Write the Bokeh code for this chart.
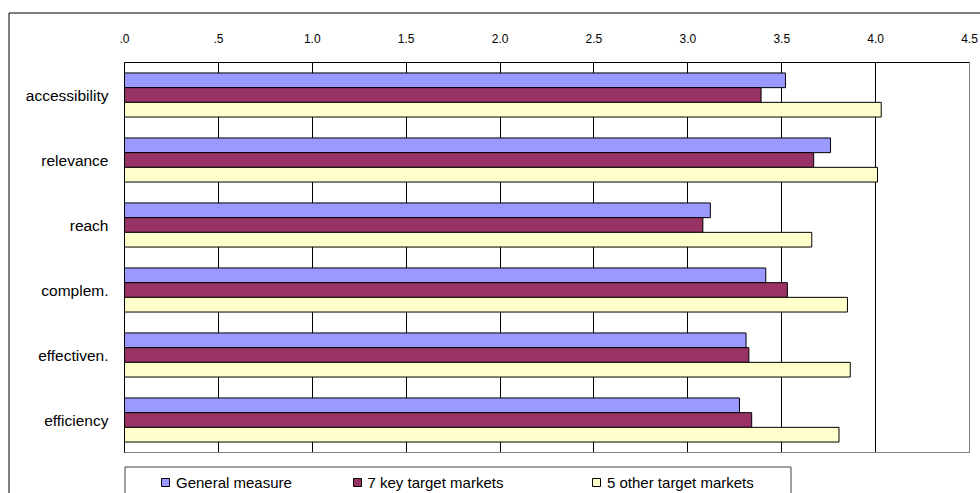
import numpy as np
from bokeh.plotting import figure
from bokeh.models import (Range1d, FixedTicker, ColumnDataSource, Legend, LegendItem,
                          BoxAnnotation, LinearAxis)
from bokeh.embed import file_html
from bokeh.resources import INLINE

categories = ["accessibility", "relevance", "reach", "complem.", "effectiven.", "efficiency"]
general_measure = [3.52, 3.76, 3.12, 3.415, 3.31, 3.275]
key_markets = [3.39, 3.67, 3.08, 3.53, 3.325, 3.34]
other_markets = [4.03, 4.01, 3.66, 3.85, 3.865, 3.805]
series_names = ["General measure", "7 key target markets", "5 other target markets"]
series_colors = ["#9999FF", "#993366", "#FFFFCC"]
x_ticks = [0.0, 0.5, 1.0, 1.5, 2.0, 2.5, 3.0, 3.5, 4.0, 4.5]
x_tick_labels = [".0", ".5", "1.0", "1.5", "2.0", "2.5", "3.0", "3.5", "4.0", "4.5"]

FONT = "Liberation Sans"
W, H = 980, 493
# layout of the inner plot area (pixels on the canvas)
PA_L, PA_R, PA_T, PA_B = 124, 969, 62, 452
XMAX = 4.5
NCAT = len(categories)
xs = (PA_R - PA_L) / XMAX          # px per x unit
ys = (PA_B - PA_T) / NCAT          # px per category band


def px_x(px):
    return (px - PA_L) / xs


def px_y(py):
    return (PA_B - py) / ys


centers = NCAT - 0.5 - np.arange(NCAT)
bh = 0.226
source = ColumnDataSource(dict(cat=categories, yc=centers, yg=centers + bh, yk=centers, yo=centers - bh,
                               g=general_measure, k=key_markets, o=other_markets))

p = figure(width=W, height=H, output_backend="svg", toolbar_location=None,
           x_range=Range1d(px_x(0), px_x(W)), y_range=Range1d(px_y(H), px_y(0)),
           x_axis_location="above", min_border=0, min_border_left=0, min_border_right=0,
           min_border_top=0, min_border_bottom=0)
p.outline_line_color = None
p.xgrid.visible = False
p.ygrid.visible = False

# top value axis; its inward ticks act as vertical gridlines
ax = p.xaxis[0]
ax.fixed_location = NCAT
ax.bounds = (0, XMAX)
ax.ticker = FixedTicker(ticks=x_ticks)
ax.major_label_overrides = {t: l for t, l in zip(x_ticks, x_tick_labels)}
ax.major_tick_out = 0
ax.major_tick_in = PA_B - PA_T
ax.major_tick_line_color = "#000000"
ax.minor_tick_out = 0
ax.minor_tick_in = 0
ax.major_label_standoff = 20
ax.major_label_text_font = FONT
ax.major_label_text_font_size = "12px"
ax.major_label_text_color = "#000000"
ax.axis_line_color = "#000000"
ax.level = "underlay"

# left category axis
ay = p.yaxis[0]
ay.fixed_location = 0
ay.bounds = (0, NCAT)
ay.ticker = FixedTicker(ticks=list(centers))
ay.major_label_overrides = {float(c): n for c, n in zip(centers, categories)}
ay.major_tick_out = 0
ay.major_tick_in = 0
ay.minor_tick_out = 0
ay.minor_tick_in = 0
ay.major_label_standoff = 16
ay.major_label_text_font = FONT
ay.major_label_text_font_size = "15.5px"
ay.major_label_text_color = "#000000"
ay.axis_line_color = "#000000"

# right and bottom borders of the plot area
for loc, fixed, bnds in (("right", XMAX, (0, NCAT)), ("below", 0, (0, XMAX))):
    a = LinearAxis(fixed_location=fixed, bounds=bnds, axis_line_color="#808080",
                   major_tick_in=0, major_tick_out=0, minor_tick_in=0, minor_tick_out=0,
                   major_label_text_font_size="0px", ticker=FixedTicker(ticks=[]))
    p.add_layout(a, loc)

renderers = []
for ycol, col, color in zip(["yg", "yk", "yo"], ["g", "k", "o"], series_colors):
    r = p.hbar(y=ycol, right=col, left=0, height=bh, source=source,
               fill_color=color, line_color="#000000", line_width=1)
    renderers.append(r)

# outer chart frame
outer = BoxAnnotation(left=px_x(8.5), top=px_y(12.5), right=px_x(2000), bottom=px_y(2000),
                      fill_alpha=0, line_color="#000000", line_width=1, line_alpha=1)
p.add_layout(outer)

# legend box
lbox = BoxAnnotation(left=px_x(124.5), top=px_y(466.5), right=px_x(790.5), bottom=px_y(2000),
                     fill_color="#FFFFFF", fill_alpha=1, line_color="#404040", line_width=1, line_alpha=1)
p.add_layout(lbox)

legend_x = [160, 351.5, 591]
for name, r, lx in zip(series_names, renderers, legend_x):
    lg = Legend(items=[LegendItem(label=name, renderers=[r])], location=(lx, 2),
                orientation="horizontal", padding=0, margin=0, spacing=0,
                glyph_width=10, glyph_height=10, label_height=18, label_standoff=6,
                label_text_font=FONT, label_text_font_size="15px", label_text_color="#000000",
                border_line_alpha=0, background_fill_alpha=0)
    p.add_layout(lg)

open("out.html", "w").write(file_html(p, INLINE))
